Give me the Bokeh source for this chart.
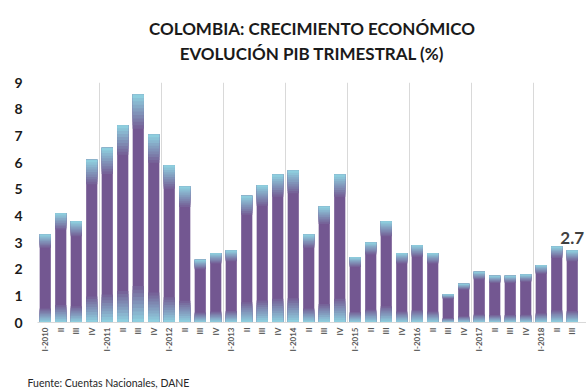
from bokeh.plotting import figure
from bokeh.models import ColumnDataSource, FixedTicker, Range1d, Title
from bokeh.core.properties import value
from bokeh.embed import file_html
from bokeh.resources import INLINE

# Quarterly GDP growth, Colombia (%), I-2010 .. III-2018
years = [2010, 2011, 2012, 2013, 2014, 2015, 2016, 2017, 2018]
quarter_names = ["I", "II", "III", "IV"]
growth = [
    3.3, 4.1, 3.8, 6.1,
    6.55, 7.4, 8.55, 7.05,
    5.9, 5.1, 2.35, 2.6,
    2.7, 4.75, 5.15, 5.55,
    5.7, 3.3, 4.35, 5.55,
    2.45, 3.0, 3.8, 2.6,
    2.9, 2.6, 1.05, 1.45,
    1.9, 1.75, 1.75, 1.8,
    2.15, 2.85, 2.7,
]
y_ticks = list(range(0, 10))
title_lines = ["COLOMBIA: CRECIMIENTO ECONÓMICO", "EVOLUCIÓN PIB TRIMESTRAL (%)"]
source_note = "Fuente: Cuentas Nacionales, DANE"

labels = []
for y in years:
    for qi, q in enumerate(quarter_names):
        labels.append(f"I-{y}" if qi == 0 else q)
labels = labels[:len(growth)]
xs = list(range(len(growth)))

PURPLE = (115, 87, 145)
BLUE = (142, 206, 222)


def mix(t):
    r, g, b = (round(PURPLE[i] + (BLUE[i] - PURPLE[i]) * t) for i in range(3))
    return f"#{r:02x}{g:02x}{b:02x}"


p = figure(
    width=586, height=390,
    x_range=Range1d(-0.5, 34.92), y_range=Range1d(0, 9),
    output_backend="svg", toolbar_location=None,
    min_border_left=37, min_border_right=0,
    min_border_top=82, min_border_bottom=68,
)
p.outline_line_color = None
p.background_fill_color = "white"
p.border_fill_color = "white"

W = 0.72
# base purple column
p.vbar(x=xs, top=growth, bottom=0, width=W, fill_color=mix(0), line_color=None)

# fade to light blue towards the bottom of each column
steps = 10
for k in range(steps):
    f = 0.16 * (1 - k / steps)
    t = (k + 1) / steps
    p.vbar(x=xs, top=[v * f for v in growth], bottom=0, width=W,
           fill_color=mix(t), line_color=None)

# fade to light blue towards the top of each column
for k in range(steps):
    f = 0.85 + 0.15 * (k / steps)
    t = (k + 1) / steps
    p.vbar(x=xs, top=growth, bottom=[v * f for v in growth], width=W,
           fill_color=mix(t), line_color=None)

# value label on the latest quarter
last = ColumnDataSource(dict(x=[xs[-1]], y=[growth[-1]], t=[f"{growth[-1]:.1f}"]))
p.text(x="x", y="y", text="t", source=last, y_offset=-7,
       text_align="center", text_baseline="bottom",
       text_font=value("Lato"), text_font_style="bold",
       text_font_size="17px", text_color="#404040")

# axes
p.xaxis.ticker = FixedTicker(ticks=xs)
p.xaxis.major_label_overrides = {i: s for i, s in zip(xs, labels)}
p.xaxis.major_label_orientation = 3.14159265 / 2
p.xaxis.major_label_text_font = "Lato"
p.xaxis.major_label_text_font_style = "bold"
p.xaxis.major_label_text_font_size = "8px"
p.xaxis.major_label_text_color = "#595959"
p.xaxis.major_label_standoff = 5
p.xaxis.axis_line_color = "#d9d9d9"
p.xaxis.major_tick_line_color = None
p.xaxis.minor_tick_line_color = None
p.xaxis.major_tick_out = 0
p.xaxis.major_tick_in = 0

p.yaxis.ticker = FixedTicker(ticks=y_ticks)
p.yaxis.major_label_text_font = "Lato"
p.yaxis.major_label_text_font_style = "bold"
p.yaxis.major_label_text_font_size = "14px"
p.yaxis.major_label_text_color = "#1a1a1a"
p.yaxis.major_label_standoff = 15
p.yaxis.axis_line_color = None
p.yaxis.major_tick_line_color = None
p.yaxis.minor_tick_line_color = None
p.yaxis.major_tick_out = 0
p.yaxis.major_tick_in = 0

# year separators only
p.ygrid.grid_line_color = None
p.xgrid.ticker = FixedTicker(ticks=[i * 4 - 0.5 for i in range(len(years))])
p.xgrid.grid_line_color = "#d9d9d9"
p.xgrid.grid_line_width = 1


def spacer(gap):
    # white-on-white title used only to reserve vertical room in a side panel
    return Title(text=".", text_font_size="4px", text_color="white", standoff=gap)


# heading: spacer next to the frame, then the two lines stacked upwards
p.add_layout(spacer(12), "above")
p.add_layout(Title(text=title_lines[1], align="center",
                   text_font="Lato", text_font_style="bold",
                   text_font_size="17px", text_color="#1a1a1a", standoff=4), "above")
p.add_layout(Title(text=title_lines[0], align="center",
                   text_font="Lato", text_font_style="bold",
                   text_font_size="17px", text_color="#1a1a1a", standoff=0), "above")

# source note under the quarter labels
p.add_layout(spacer(15), "below")
p.add_layout(Title(text=source_note, align="left", offset=-10,
                   text_font="Lato", text_font_style="normal",
                   text_font_size="10.5px", text_color="#262626", standoff=0), "below")

open("out.html", "w").write(file_html(p, INLINE))
